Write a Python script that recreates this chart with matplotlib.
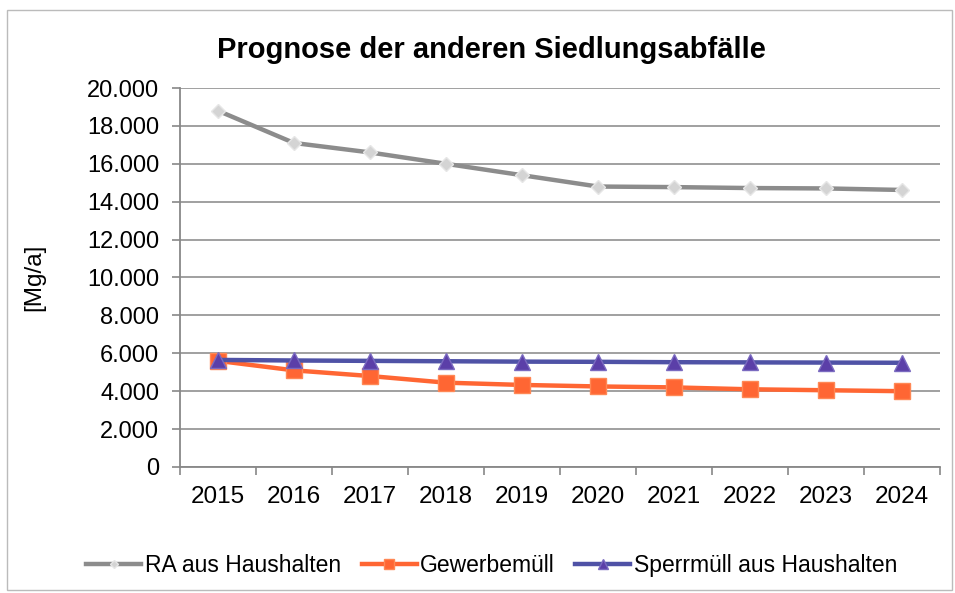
import matplotlib
matplotlib.use('Agg')
import matplotlib.pyplot as plt
from matplotlib.ticker import FuncFormatter, FixedLocator
from matplotlib.patches import Rectangle

plt.rcParams['font.family'] = ['Liberation Sans', 'DejaVu Sans']

years = ['2015', '2016', '2017', '2018', '2019', '2020', '2021', '2022', '2023', '2024']
ra_haushalte = [18800, 17100, 16600, 16000, 15400, 14800, 14770, 14720, 14700, 14620]
gewerbemuell = [5600, 5100, 4800, 4450, 4330, 4250, 4200, 4100, 4050, 4000]
sperrmuell = [5650, 5620, 5600, 5580, 5560, 5550, 5530, 5520, 5510, 5500]

fig = plt.figure(figsize=(9.55, 5.93), dpi=100)
ax = fig.add_axes([0.1885, 0.2125, 0.7955, 0.6391])

# light frame around the whole chart
fig.patches.append(Rectangle((0.007, 0.005), 0.99, 0.978, transform=fig.transFigure,
                             fill=False, edgecolor='#bbbbbb', linewidth=1))

x = list(range(len(years)))
ax.plot(x, ra_haushalte, color='#8c8c8c', lw=3.2, marker='D', ms=7,
        mfc='#d4d4d4', mec='#e6e6e6', label='RA aus Haushalten', zorder=3)
ax.plot(x, gewerbemuell, color='#ff6633', lw=3.2, marker='s', ms=12,
        mfc='#ff6633', mec='#ff8855', label='Gewerbemüll', zorder=3)
ax.plot(x, sperrmuell, color='#4f52a6', lw=3.2, marker='^', ms=12,
        mfc='#5b3fa8', mec='#7a6ac0', label='Sperrmüll aus Haushalten', zorder=4)

ax.set_xlim(-0.5, len(years) - 0.5)
ax.set_ylim(0, 20000)
ax.set_yticks(range(0, 20001, 2000))
ax.yaxis.set_major_formatter(FuncFormatter(lambda v, p: '0' if v == 0 else f'{int(v):,}'.replace(',', '.')))
ax.set_xticks(x)
ax.set_xticklabels(years)
ax.xaxis.set_minor_locator(FixedLocator([i - 0.5 for i in range(len(years) + 1)]))
ax.tick_params(axis='x', which='major', length=0, pad=14, labelsize=17.5)
ax.tick_params(axis='x', which='minor', length=6, color='#888888', width=1.2)
ax.tick_params(axis='y', length=6, color='#888888', width=1.2, labelsize=17, pad=9)

ax.grid(axis='y', color='#999999', lw=1.3)
ax.set_axisbelow(True)
for s in ['top', 'right']:
    ax.spines[s].set_visible(False)
for s in ['left', 'bottom']:
    ax.spines[s].set_color('#888888')
    ax.spines[s].set_linewidth(1.3)

ax.set_ylabel('[Mg/a]', fontsize=17.5, labelpad=30)
fig.text(0.515, 0.915, 'Prognose der anderen Siedlungsabfälle', ha='center', va='center',
         fontsize=21, fontweight='bold')

fig.legend(loc='center', bbox_to_anchor=(0.515, 0.047), ncol=3, frameon=False,
           fontsize=16.5, handlelength=2.4, handletextpad=0.15, columnspacing=0.9,
           markerscale=0.6)

fig.savefig('out.png', dpi=100)
